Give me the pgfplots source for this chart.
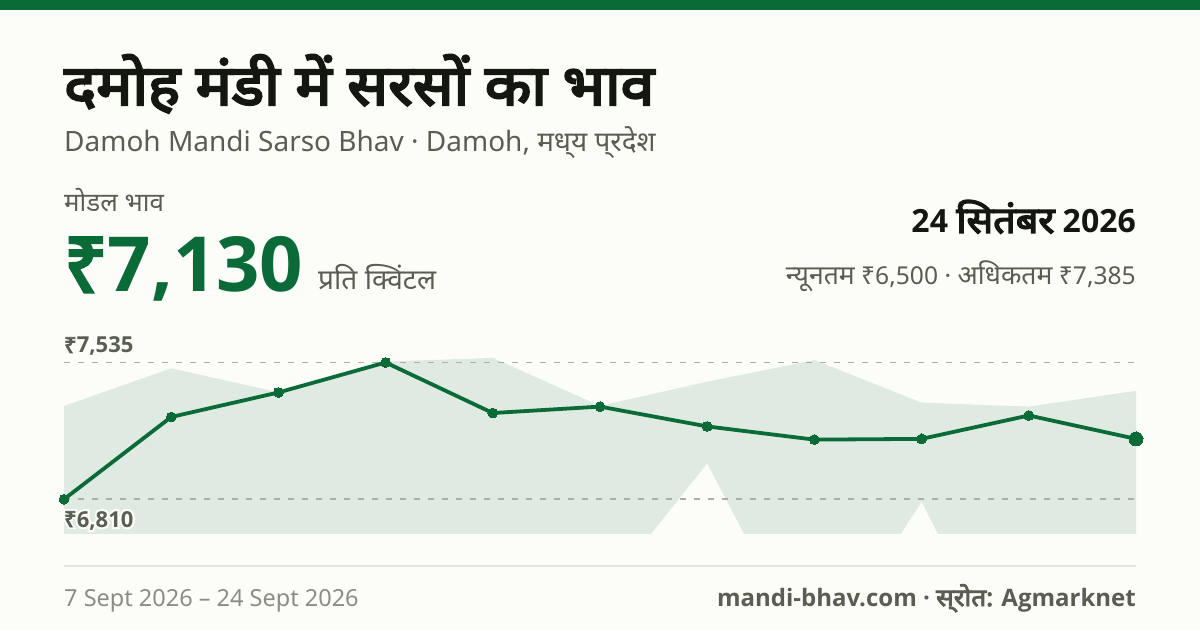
\documentclass[border=0pt]{standalone}
\usepackage{pgfplots}
\pgfplotsset{compat=1.18}
\usepackage{fontspec}
\setmainfont[Ligatures=TeX]{Noto Sans}
\newfontfamily\dv[Script=Devanagari,Scale=1.08]{Noto Sans}
\newfontfamily\dvb[Script=Devanagari,Scale=1.08,FakeBold=4,FakeStretch=1.075]{Noto Sans}
\newfontfamily\nb[FakeBold=4]{Noto Sans}
\newfontfamily\obf{Open Sans}
\newcommand{\ob}{\obf\bfseries}
\newfontfamily\hn[FakeBold=20]{Noto Sans}
\newfontfamily\hofam[BoldFeatures={FakeBold=20}]{Open Sans}
\definecolor{bgc}{HTML}{FCFDF9}
\definecolor{grn}{HTML}{0B6B38}
\definecolor{areac}{HTML}{DFEAE2}
\definecolor{ink}{HTML}{14170F}
\definecolor{mid}{HTML}{5A5D52}
\definecolor{lite}{HTML}{8B8D85}
\definecolor{dashc}{HTML}{ADAFA6}
\definecolor{rulec}{HTML}{E3E5DF}
\newcommand{\T}[6]{\node[anchor=base #1,inner sep=0pt,text=#5,font=#4] at (#2pt,#3pt) {#6};}
\newcommand{\fs}[1]{\fontsize{#1}{#1}\selectfont}
\begin{document}
\begin{tikzpicture}[x=1pt,y=1pt]
\fill[bgc] (0,0) rectangle (1200,630);
\fill[grn] (0,620) rectangle (1200,630);
\T{west}{64}{525}{\fs{52}\dvb}{ink}{दमोह मंडी में सरसों का भाव}
\T{west}{64}{478}{\fs{28}}{mid}{Damoh Mandi Sarso Bhav · Damoh, {\fs{25.8}\dv मध्‌य प्‌रदेश}}
\T{west}{64}{418}{\fs{24}\dv}{mid}{मोडल भाव}
\T{west}{64}{338}{\fs{76}}{grn}{{\nb ₹}{\ob 7,130}}
\T{west}{318}{340}{\fs{26}\dv}{mid}{प्रति क्विंटल}
\T{east}{1136}{397}{\fs{32}}{ink}{{\ob 24 }{\fs{34}\dvb सितंबर}{\ob{} 2026}}
\T{east}{1136}{345}{\fs{24.6}}{mid}{{\dv न्यूनतम} ₹6,500 · {\dv अधिकतम} ₹7,385}
\begin{axis}[at={(64pt,96pt)},anchor=south west,width=1072pt,height=194pt,scale only axis,
 axis lines=none,xmin=0,xmax=10,ymin=6626,ymax=7654,clip mode=individual]
\addplot[fill=areac,draw=none] coordinates {
 (0,7304)(1,7504)(2,7377)(3,7540)(4,7559)(5,7305)(6,7433)(7,7548)(8,7322)(9,7301)(10,7385)
 (10,6500)(9,5677)(8,6797)(7,5916)(6,7000)(5,6287)(4,6500)(3,6500)(2,6500)(1,6500)(0,6500)} --cycle;
\addplot[dashc,line width=1.8pt,dash pattern=on 6pt off 8pt] coordinates {(0,7535)(10,7535)};
\addplot[dashc,line width=1.8pt,dash pattern=on 6pt off 8pt] coordinates {(0,6810)(10,6810)};
\addplot[grn,line width=3.8pt,line join=round,mark=*,mark size=4.9pt,mark options={fill=grn,draw=grn,line width=0pt,solid}] coordinates {
 (0,6810)(1,7246)(2,7376)(3,7535)(4,7267)(5,7301)(6,7196)(7,7126)(8,7130)(9,7254)(10,7130)};
\addplot[grn,only marks,mark=*,mark size=7pt,mark options={fill=grn,draw=grn,line width=0pt}] coordinates {(10,7130)};
\end{axis}
\T{west}{64}{277}{\fs{22}}{mid}{{\nb ₹}{\ob 7,535}}
\T{west}{64}{103}{\fs{22}}{bgc}{{\hn ₹}{\hofam\bfseries 6,810}}
\T{west}{64}{103}{\fs{22}}{mid}{{\nb ₹}{\ob 6,810}}
\draw[rulec,line width=2pt] (64,64) -- (1136,64);
\T{west}{64}{24}{\fs{23.5}}{lite}{7 Sept 2026 – 24 Sept 2026}
\T{east}{1136}{24}{\fs{24}}{mid}{{\ob mandi-bhav.com · }{\fs{22.5}\dvb स्‌रोत:}{\ob{} Agmarknet}}
\end{tikzpicture}
\end{document}
